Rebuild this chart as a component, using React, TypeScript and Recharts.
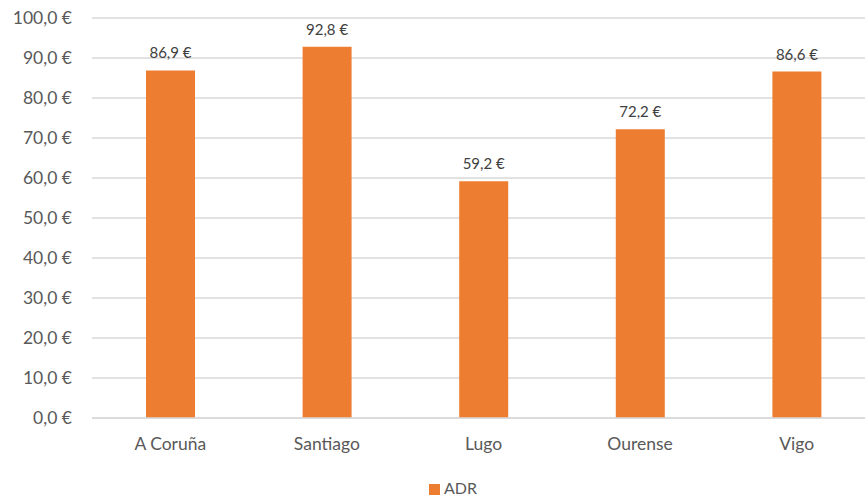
import React from "react";
import { BarChart, Bar, XAxis, YAxis, CartesianGrid, Legend, LabelList } from "recharts";

const cities = ["A Coruña", "Santiago", "Lugo", "Ourense", "Vigo"];
const adr = [86.9, 92.8, 59.2, 72.2, 86.6];
const yTicks = [0, 10, 20, 30, 40, 50, 60, 70, 80, 90, 100];

const data = cities.map((name, i) => ({ name, ADR: adr[i] }));

const euro = (v: number) => `${v.toFixed(1).replace(".", ",")} €`;

const FONT = "Lato, 'Open Sans', sans-serif";

const App: React.FC = () => {
  return (
    <div
      style={{
        position: "absolute",
        left: 0,
        top: 0,
        width: 865,
        height: 498,
        overflow: "hidden",
        background: "#fff",
        fontFamily: FONT,
      }}
    >
      <BarChart
        width={880}
        height={498}
        data={data}
        margin={{ top: 18, right: 5, bottom: 2, left: 0 }}
        barSize={49}
      >
        <CartesianGrid vertical={false} stroke="#D9D9D9" strokeWidth={1.5} />
        <XAxis
          dataKey="name"
          axisLine={{ stroke: "#D9D9D9", strokeWidth: 1.5 }}
          tickLine={false}
          height={54}
          tickMargin={14}
          tick={{ fill: "#595959", fontSize: 17.5, fontFamily: FONT }}
        />
        <YAxis
          width={92}
          domain={[0, 100]}
          ticks={yTicks}
          axisLine={false}
          tickLine={false}
          tickMargin={14}
          tickFormatter={euro}
          tick={{ fill: "#595959", fontSize: 17.5, fontFamily: FONT }}
        />
        <Legend
          verticalAlign="bottom"
          align="left"
          height={24}
          iconType="square"
          iconSize={11}
          formatter={(v) => <span style={{ color: "#595959", fontSize: 16 }}>{v}</span>}
          wrapperStyle={{ fontFamily: FONT, left: 429, top: 478, width: "auto" }}
        />
        <Bar dataKey="ADR" fill="#ED7D31" isAnimationActive={false}>
          <LabelList
            dataKey="ADR"
            position="top"
            offset={12}
            formatter={(v: any) => euro(Number(v))}
            style={{ fill: "#404040", fontSize: 15, fontFamily: FONT }}
          />
        </Bar>
      </BarChart>
    </div>
  );
};

export default App;
